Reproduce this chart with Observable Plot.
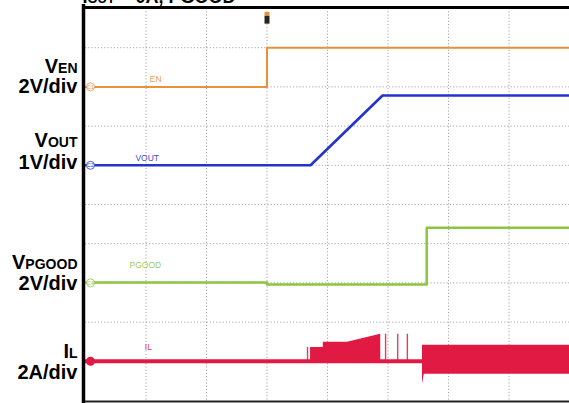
<!DOCTYPE html>
<html>
<head>
<meta charset="utf-8">
<script src="https://cdn.jsdelivr.net/npm/d3@7"></script>
<script src="https://cdn.jsdelivr.net/npm/@observablehq/plot@0.6"></script>
<style>
  html, body { margin: 0; padding: 0; background: white; overflow: hidden; }
</style>
</head>
<body>
<div id="chart"></div>
<script>
// ---- Channel setup (scope settings) ----
const channelNames = ["EN", "VOUT", "PGOOD", "IL"];
const channelIds = ["C1", "C2", "C4", "C3"];
const channelScale = [2, 1, 2, 2];          // units per division
const channelOffset = [8, 6, 3, 1];         // ground level, divisions from bottom
const channelColor = ["#e8913a", "#2434c8", "#8cc63f", "#e11a44"];
const scaleLabels = ["2V/div", "1V/div", "2V/div", "2A/div"];
const nameLabels = ["Ven", "Vout", "Vpgood", "Il"];
const titleText = "Iout = 0A, PGOOD";

// ---- Waveforms (time in divisions, values in V or A) ----
const enTime = [0, 3.0, 3.0, 8];
const enVolts = [0, 0, 2.0, 2.0];

const voutTime = [0, 3.72, 4.91, 8];
const voutVolts = [0, 0, 1.78, 1.78];

const pgTime = [0, 3.0, 3.0, 5.64, 5.64, 8];
const pgVolts = [0.02, 0.02, -0.08, -0.08, 2.82, 2.82];

const ilTime = [0, 8];
const ilAmps = [0, 0];

const burstTime = [3.72, 3.93, 3.93, 4.33, 4.88];
const burstHigh = [0.71, 0.71, 0.97, 0.97, 1.38];
const burstLow = [-0.05, -0.05, -0.05, -0.05, -0.05];

const spikeTime = [3.67, 4.96, 5.16, 5.32];
const spikeHigh = [0.71, 1.38, 1.38, 1.38];

const rippleTime = [5.57, 5.6, 8];
const rippleHigh = [0.82, 0.82, 0.82];
const rippleLow = [-1.17, -0.66, -0.66];

const triggerTime = 3.0;

// ---- Build tables ----
const toDiv = (ch, v) => channelOffset[ch] + v / channelScale[ch];
const series = (ch, t, v) => t.map((x, i) => ({x, y: toDiv(ch, v[i])}));
const enData = series(0, enTime, enVolts);
const voutData = series(1, voutTime, voutVolts);
const pgData = series(2, pgTime, pgVolts);
const ilData = series(3, ilTime, ilAmps);
const burstData = burstTime.map((x, i) => ({x, y1: toDiv(3, burstLow[i]), y2: toDiv(3, burstHigh[i])}));
const rippleData = rippleTime.map((x, i) => ({x, y1: toDiv(3, rippleLow[i]), y2: toDiv(3, rippleHigh[i])}));
const spikeData = spikeTime.map((x, i) => ({x, y1: toDiv(3, 0), y2: toDiv(3, spikeHigh[i])}));

const labelRows = channelNames.map((n, i) => ({
  name: nameLabels[i], scale: scaleLabels[i], off: channelOffset[i], color: channelColor[i], id: channelIds[i], trace: n
}));
const nameShift = {EN: 0.52, VOUT: 0.62, PGOOD: 0.52, IL: 0.26};
const scaleShift = {EN: 0.0, VOUT: 0.06, PGOOD: -0.03, IL: -0.28};
const nameRows = labelRows.map(d => ({...d, y: d.off + nameShift[d.trace]}));
const scaleRows = labelRows.map(d => ({...d, y: d.off + scaleShift[d.trace]}));
const traceLabelPos = {EN: [1.16, 0.2], VOUT: [1.02, 0.18], PGOOD: [0.99, 0.45], IL: [1.04, 0.35]};
const traceLabels = labelRows.map(d => ({text: d.trace, color: d.color, x: traceLabelPos[d.trace][0], y: d.off + traceLabelPos[d.trace][1]}));

const font = "Liberation Sans, Arial, Helvetica, sans-serif";

const chart = Plot.plot({
  width: 569,
  height: 403,
  marginLeft: 85,
  marginRight: 0,
  marginTop: 8,
  marginBottom: 3,
  x: {domain: [0, 8], axis: null},
  y: {domain: [0, 10], axis: null},
  style: {fontFamily: font, background: "white", overflow: "visible"},
  marks: [
    Plot.gridX(d3.range(1, 9), {stroke: "#8a8a8a", strokeOpacity: 0.75, strokeDasharray: "1.2,2", strokeWidth: 1}),
    Plot.gridY(d3.range(1, 10), {stroke: "#8a8a8a", strokeOpacity: 0.75, strokeDasharray: "1.2,2", strokeWidth: 1}),
    // IL waveform
    Plot.line(ilData, {x: "x", y: "y", stroke: channelColor[3], strokeWidth: 4}),
    Plot.areaY(burstData, {x: "x", y1: "y1", y2: "y2", fill: channelColor[3], curve: "linear"}),
    Plot.areaY(rippleData, {x: "x", y1: "y1", y2: "y2", fill: channelColor[3], curve: "linear"}),
    Plot.ruleX(spikeData, {x: "x", y1: "y1", y2: "y2", stroke: channelColor[3], strokeWidth: 1.4, strokeOpacity: 0.85}),
    // PGOOD
    Plot.line(pgData, {x: "x", y: "y", stroke: channelColor[2], strokeWidth: 2.5}),
    // VOUT
    Plot.line(voutData, {x: "x", y: "y", stroke: channelColor[1], strokeWidth: 2.6}),
    // EN
    Plot.line(enData, {x: "x", y: "y", stroke: channelColor[0], strokeWidth: 2}),
    // trace labels
    Plot.text(traceLabels, {x: "x", y: "y", text: "text", fill: "color", fontSize: 8.5, fillOpacity: 0.9}),
    // channel ground markers
    Plot.dot(labelRows.slice(0, 3), {x: 0, y: "off", r: 4, fill: "white", stroke: "color", strokeWidth: 0.8, dx: 5}),
    Plot.text(labelRows.slice(0, 3), {x: 0, y: "off", text: "id", fill: "color", fontSize: 5, dx: 5}),
    Plot.dot([labelRows[3]], {x: 0, y: "off", r: 4.5, fill: channelColor[3], dx: 5}),
    // frame
    Plot.ruleX([0], {stroke: "black", strokeWidth: 3.5, dx: -2, y1: -0.1, y2: 10.1}),
    Plot.ruleY([10], {stroke: "black", strokeWidth: 3, dy: -1}),
    Plot.ruleY([0], {stroke: "#222", strokeWidth: 2, dy: 1}),
    // trigger marker
    Plot.ruleX([triggerTime], {y1: 9.9, y2: 9.8, stroke: channelColor[0], strokeWidth: 5}),
    Plot.ruleX([triggerTime], {y1: 9.8, y2: 9.6, stroke: "#2b2418", strokeWidth: 5}),
    // left labels
    Plot.text(nameRows, {y: "y", text: "name", frameAnchor: "left", textAnchor: "end", dx: -8, fontSize: 20, fontWeight: "bold", fontVariant: "small-caps", fill: "black"}),
    Plot.text(scaleRows, {y: "y", text: "scale", frameAnchor: "left", textAnchor: "end", dx: -8, fontSize: 20, fontWeight: "bold", fill: "black"}),
    // title (cropped at the top in the original)
    Plot.text([titleText], {frameAnchor: "top-left", textAnchor: "start", lineAnchor: "bottom", dy: -6, dx: -3, fontSize: 18, fontWeight: "bold", fontVariant: "small-caps", fill: "black"})
  ]
});
document.getElementById("chart").append(chart);
</script>
</body>
</html>
